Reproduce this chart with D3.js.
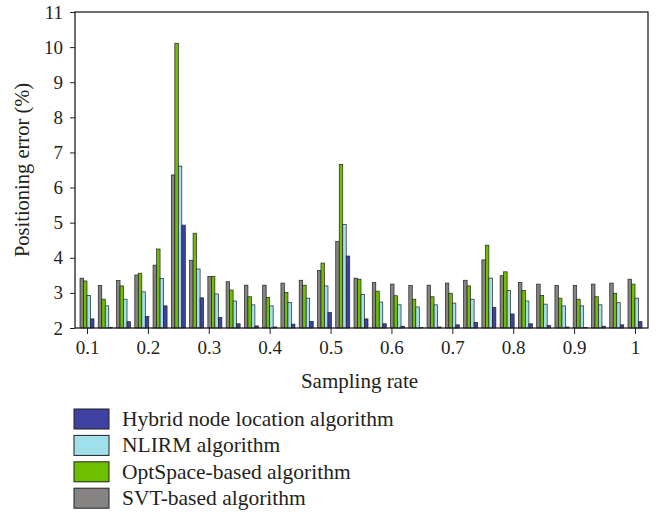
<!DOCTYPE html>
<html>
<head>
<meta charset="utf-8">
<script src="https://cdn.jsdelivr.net/npm/d3@7"></script>
<style>
  body { margin: 0; background: #fff; }
  svg { display: block; font-family: "Liberation Serif", "DejaVu Serif", serif; }
</style>
</head>
<body>
<svg id="chart" width="665" height="514"></svg>
<script>
// sampling rates (one group of bars per rate)
const rates = [0.10, 0.13, 0.16, 0.19, 0.22, 0.25, 0.28, 0.31, 0.34, 0.37, 0.40,
               0.43, 0.46, 0.49, 0.52, 0.55, 0.58, 0.61, 0.64, 0.67, 0.70,
               0.73, 0.76, 0.79, 0.82, 0.85, 0.88, 0.91, 0.94, 0.97, 1.00];

// positioning error (%) per algorithm
const svt = [3.42, 3.21, 3.35, 3.51, 3.79, 6.36, 3.93, 3.47, 3.32, 3.22, 3.22,
             3.28, 3.36, 3.64, 4.46, 3.42, 3.30, 3.25, 3.21, 3.22, 3.28,
             3.36, 3.94, 3.49, 3.30, 3.25, 3.21, 3.21, 3.25, 3.28, 3.39];
const optSpace = [3.34, 2.82, 3.20, 3.56, 4.25, 10.11, 4.70, 3.47, 3.08, 2.89, 2.87,
                  3.01, 3.22, 3.85, 6.66, 3.39, 3.05, 2.92, 2.82, 2.89, 2.99,
                  3.20, 4.36, 3.60, 3.07, 2.93, 2.85, 2.82, 2.89, 2.99, 3.25];
const nlirm = [2.93, 2.63, 2.82, 3.03, 3.41, 6.61, 3.68, 2.97, 2.77, 2.66, 2.63,
               2.73, 2.85, 3.20, 4.95, 2.95, 2.74, 2.66, 2.60, 2.66, 2.71,
               2.82, 3.42, 3.07, 2.77, 2.68, 2.63, 2.63, 2.66, 2.72, 2.85];
const hybrid = [2.26, 2.02, 2.18, 2.33, 2.63, 4.93, 2.86, 2.30, 2.12, 2.06, 2.03,
                2.11, 2.19, 2.44, 4.05, 2.26, 2.12, 2.05, 2.01, 2.03, 2.09,
                2.16, 2.59, 2.40, 2.12, 2.07, 2.03, 2.01, 2.05, 2.09, 2.18];

const xTicks = [0.1, 0.2, 0.3, 0.4, 0.5, 0.6, 0.7, 0.8, 0.9, 1];
const yTicks = [2, 3, 4, 5, 6, 7, 8, 9, 10, 11];

// drawing order inside a group: left to right
const series = [
  { name: "SVT-based algorithm", values: svt, color: "#868482" },
  { name: "OptSpace-based algorithm", values: optSpace, color: "#6dbf00" },
  { name: "NLIRM algorithm", values: nlirm, color: "#9fe0ea" },
  { name: "Hybrid node location algorithm", values: hybrid, color: "#3f42a0" }
];
// legend order top to bottom
const legendOrder = [3, 2, 1, 0];

const svg = d3.select("#chart");
const frame = { left: 75, right: 648, top: 12, bottom: 328 };
const ink = "#231f20";

const x = d3.scaleLinear().domain([0.1, 1]).range([87, 635]);
const y = d3.scaleLinear().domain([2, 11]).range([frame.bottom, frame.top]);
const sub = d3.scaleBand().domain(d3.range(series.length)).range([-7, 7]);

// bars
const g = svg.append("g");
series.forEach((s, si) => {
  g.selectAll(null)
    .data(s.values)
    .join("rect")
    .attr("x", (d, i) => x(rates[i]) + sub(si))
    .attr("y", d => y(d))
    .attr("width", sub.bandwidth())
    .attr("height", d => y(2) - y(d))
    .attr("fill", s.color)
    .attr("stroke", "#222")
    .attr("stroke-width", 0.7);
});

// frame
svg.append("rect")
  .attr("x", frame.left).attr("y", frame.top)
  .attr("width", frame.right - frame.left)
  .attr("height", frame.bottom - frame.top)
  .attr("fill", "none").attr("stroke", ink).attr("stroke-width", 1.3);

// x axis
const xAxis = svg.append("g")
  .attr("transform", `translate(0,${frame.bottom})`)
  .call(d3.axisBottom(x).tickValues(xTicks).tickFormat(d3.format("")).tickSize(6).tickSizeOuter(0));
xAxis.select(".domain").remove();
xAxis.selectAll("line").attr("stroke", ink);
xAxis.selectAll("text").attr("font-size", 19).attr("fill", ink).attr("y", 11).attr("dy", "0.8em")
  .attr("font-family", "Liberation Serif, serif");

// y axis
const yAxis = svg.append("g")
  .attr("transform", `translate(${frame.left},0)`)
  .call(d3.axisLeft(y).tickValues(yTicks).tickSize(5).tickSizeOuter(0));
yAxis.select(".domain").remove();
yAxis.selectAll("line").attr("stroke", ink);
yAxis.selectAll("text").attr("font-size", 19).attr("fill", ink).attr("x", -12)
  .attr("font-family", "Liberation Serif, serif");

// axis titles
svg.append("text")
  .attr("x", (frame.left + frame.right) / 2 - 2).attr("y", 388)
  .attr("text-anchor", "middle").attr("font-size", 21).attr("fill", ink)
  .text("Sampling rate");
svg.append("text")
  .attr("transform", `translate(29,${(frame.top + frame.bottom) / 2}) rotate(-90)`)
  .attr("text-anchor", "middle").attr("font-size", 20.5).attr("fill", ink)
  .text("Positioning error (%)");

// legend
const legend = svg.append("g").attr("transform", "translate(74,409)");
legendOrder.forEach((si, row) => {
  const item = legend.append("g").attr("transform", `translate(0,${row * 26.4})`);
  item.append("rect")
    .attr("width", 35).attr("height", 20)
    .attr("fill", series[si].color).attr("stroke", ink).attr("stroke-width", 1);
  item.append("text")
    .attr("x", 48).attr("y", 17)
    .attr("font-size", 21.5).attr("fill", ink)
    .text(series[si].name);
});
</script>
</body>
</html>
